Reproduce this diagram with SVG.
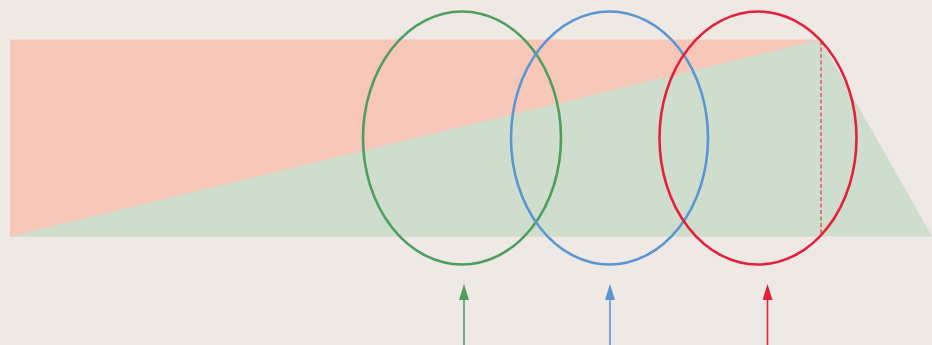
<svg xmlns="http://www.w3.org/2000/svg" width="932" height="345" viewBox="0 0 932 345">
<style>
.ring{fill:none;stroke-width:2.6}
.arr{stroke-width:1.6;fill:none}
</style>
<defs>
<marker id="hg" viewBox="0 0 16 10" refX="2" refY="5" markerWidth="16" markerHeight="10" markerUnits="userSpaceOnUse" orient="auto"><path d="M0,0 L16,5 L0,10 Z" fill="#4F9E5F"/></marker>
<marker id="hb" viewBox="0 0 16 10" refX="2" refY="5" markerWidth="16" markerHeight="10" markerUnits="userSpaceOnUse" orient="auto"><path d="M0,0 L16,5 L0,10 Z" fill="#5B96D2"/></marker>
<marker id="hr" viewBox="0 0 16 10" refX="2" refY="5" markerWidth="16" markerHeight="10" markerUnits="userSpaceOnUse" orient="auto"><path d="M0,0 L16,5 L0,10 Z" fill="#E4203A"/></marker>
</defs>
<rect width="932" height="345" fill="#EEE9E5"/>
<g id="areas">
<rect x="10" y="39.5" width="810.5" height="197" fill="#F7C7B9"/>
<polygon points="10,236.5 820.5,39.5 932,236.5" fill="#CFDDCC"/>
<line x1="821" y1="41" x2="821" y2="236" stroke="#E4203A" stroke-width="1.3" stroke-dasharray="4,2.5" opacity="0.8"/>
</g>
<g id="green-ring"><ellipse class="ring" cx="462" cy="138" rx="99" ry="126.5" stroke="#4F9E5F"/></g>
<g id="blue-ring"><ellipse class="ring" cx="609.5" cy="138" rx="98.5" ry="126.5" stroke="#5B96D2"/></g>
<g id="red-ring"><ellipse class="ring" cx="758" cy="138" rx="98.5" ry="126.5" stroke="#E4203A"/></g>
<g id="connectors">
<line class="arr" x1="464" y1="345" x2="464" y2="298" stroke="#4F9E5F" marker-end="url(#hg)"/>
<line class="arr" x1="610" y1="345" x2="610" y2="298" stroke="#5B96D2" marker-end="url(#hb)"/>
<line class="arr" x1="767.5" y1="345" x2="767.5" y2="298" stroke="#E4203A" marker-end="url(#hr)"/>
</g>
</svg>
